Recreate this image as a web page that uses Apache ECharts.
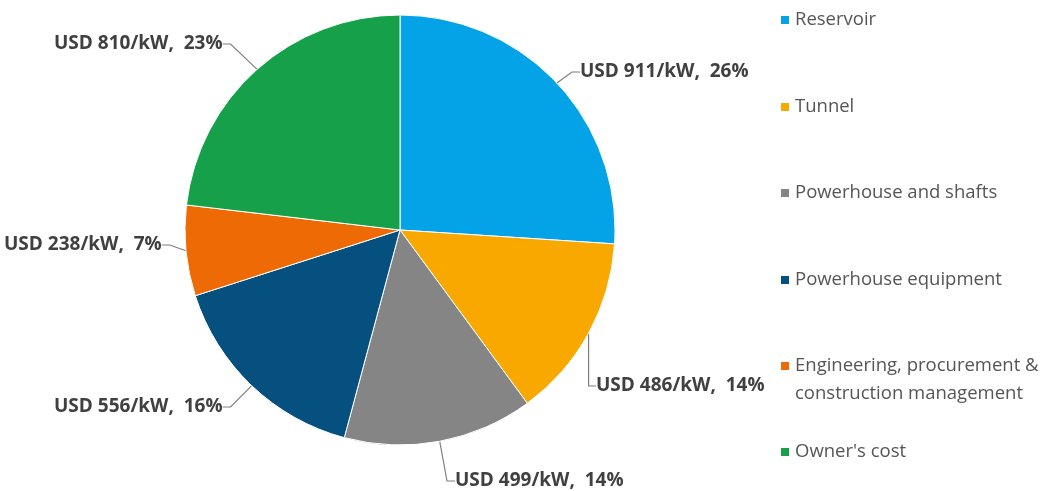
<!DOCTYPE html>
<html>
<head>
<meta charset="utf-8">
<script src="https://cdn.jsdelivr.net/npm/echarts@6/dist/echarts.min.js"></script>
<style>html,body{margin:0;padding:0;background:#fff}#c{width:1050px;height:491px}</style>
</head>
<body>
<div id="c"></div>
<script>
const categories = ['Reservoir', 'Tunnel', 'Powerhouse and shafts', 'Powerhouse equipment', 'Engineering, procurement &\nconstruction management', "Owner's cost"];
const costUsdPerKw = [911, 486, 499, 556, 238, 810];
const sharePct = [26, 14, 14, 16, 7, 23];
const colors = ['#04A2E6', '#F9A800', '#858585', '#05507F', '#EE6A04', '#17A04A'];

// label anchor positions (left x, middle y) and legend first-line centres
const labelPos = [[580, 72], [596, 386], [455, 481], [54, 407], [4, 245], [54, 44]];
const legendCentres = [20, 107, 193, 280, 366, 452];

const chart = echarts.init(document.getElementById('c'));
const labelFont = '"Open Sans", "Liberation Sans", sans-serif';
const LH = 28;

const legends = categories.map((name, i) => {
  const multi = name.indexOf('\n') >= 0;
  return {
    data: [{ name: name, icon: 'rect' }],
    orient: 'vertical',
    left: 774,
    top: legendCentres[i] - 5 - (multi ? LH * 1.5 : LH / 2),
    itemWidth: 10,
    itemHeight: 10,
    selectedMode: false,
    formatter: n => (n.indexOf('\n') >= 0 ? ' \n' + n : n),
    textStyle: {
      color: '#555555',
      fontSize: 18.5,
      fontFamily: labelFont,
      lineHeight: LH
    }
  };
});

chart.setOption({
  animation: false,
  color: colors,
  legend: legends,
  series: [{
    type: 'pie',
    center: [400, 230],
    radius: 215,
    startAngle: 90,
    clockwise: true,
    avoidLabelOverlap: false,
    itemStyle: { borderColor: '#ffffff', borderWidth: 1 },
    label: {
      show: true,
      position: 'outside',
      color: '#404040',
      fontSize: 19,
      fontWeight: 'bold',
      fontFamily: labelFont,
      formatter: p => 'USD ' + costUsdPerKw[p.dataIndex] + '/kW,  ' + sharePct[p.dataIndex] + '%'
    },
    labelLine: {
      show: true,
      length: 8,
      length2: 8,
      lineStyle: { color: '#7f7f7f', width: 1.2 }
    },
    labelLayout: p => ({
      x: labelPos[p.dataIndex][0],
      y: labelPos[p.dataIndex][1],
      align: 'left',
      verticalAlign: 'middle',
      hideOverlap: false
    }),
    data: categories.map((n, i) => ({ name: n, value: costUsdPerKw[i] }))
  }]
});
</script>
</body>
</html>
